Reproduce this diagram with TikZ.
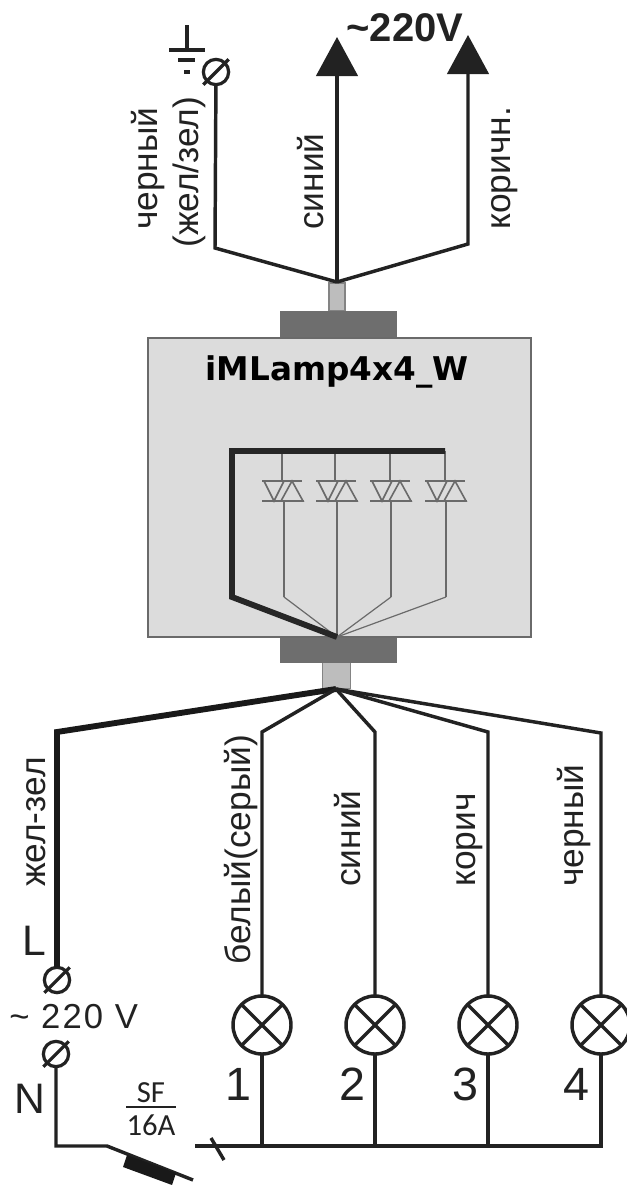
\documentclass[tikz,border=0pt]{standalone}
\usepackage{fontspec}
\setmainfont{Liberation Sans}
\newfontfamily\ratingfont{Carlito}
\newfontfamily\modelfont{DejaVu Sans}
\usetikzlibrary{arrows.meta}
\definecolor{inkblack}{HTML}{222222}
\definecolor{boxgray}{HTML}{DCDCDC}
\definecolor{capgray}{HTML}{6E6E6E}
\definecolor{stubgray}{HTML}{BDBDBD}
\definecolor{pathgray}{HTML}{6A6A6A}
\tikzset{
  wire/.style={draw=inkblack,line width=2.6pt,line join=miter},
  earthwire/.style={draw=black!90,line width=4.4pt,line join=miter},
  busline/.style={draw=black!85,line width=4.4pt,line join=miter},
  leg/.style={draw=pathgray,line width=1.4pt},
  fanleg/.style={draw=pathgray,line width=0.9pt},
  triacpart/.style={draw=pathgray,line width=1.2pt},
  feed/.style={wire,-{Triangle[length=29.25pt,width=31pt]}},
  lamp/.style={circle,draw=inkblack,line width=2.6pt,fill=white,minimum size=43.5pt,inner sep=0pt,outer sep=0pt,
    path picture={\draw[inkblack,line width=2.6pt] (path picture bounding box.south west) -- (path picture bounding box.north east)
      (path picture bounding box.north west) -- (path picture bounding box.south east);}},
  clamp/.style={circle,draw=inkblack,line width=2.4pt,fill=white,minimum size=19pt,inner sep=0pt,outer sep=0pt},
  clampslash/.style={draw=inkblack,line width=2.4pt,shorten <=-4pt,shorten >=-4pt},
  wirelabel/.style={font=\fontsize{26.5}{27}\selectfont,text=inkblack,rotate=90,anchor=base west,inner sep=0pt},
  lamplabel/.style={font=\fontsize{35}{35}\selectfont,text=inkblack,anchor=base,inner sep=0pt},
  ratinglabel/.style={font=\ratingfont\fontsize{23}{23}\selectfont,text=inkblack,anchor=base,inner sep=0pt},
}
\begin{document}
\begin{tikzpicture}[x=0.75pt,y=0.75pt,yscale=-1,xscale=1]
\useasboundingbox (0,0) rectangle (627,1185);

% Module body and connectors
\node (stubtop) [draw=stubgray!70!black,fill=stubgray,line width=0.8pt,minimum width=12pt,minimum height=21pt,inner sep=0pt,outer sep=0pt] at (337,297) {};
\node (captop) [fill=capgray,minimum width=87.75pt,minimum height=20.25pt,inner sep=0pt,outer sep=0pt] at (338.5,324.5) {};
\node (stubbot) [draw=stubgray!70!black,fill=stubgray,line width=0.8pt,minimum width=21pt,minimum height=19pt,inner sep=0pt,outer sep=0pt] at (336.5,675.5) {};
\node (capbot) [fill=capgray,minimum width=87.75pt,minimum height=19pt,inner sep=0pt,outer sep=0pt] at (338.5,650) {};
\node (module) [draw=pathgray,fill=boxgray,line width=0.8pt,minimum width=287.25pt,minimum height=224.25pt,inner sep=0pt,outer sep=0pt] at (339.5,487.5) {};

% Text Node
\node (modeltitle) [font=\modelfont\bfseries\fontsize{24.5}{25}\selectfont,text=black,anchor=base,inner sep=0pt] at (337,380) {iMLamp4x4\_W};

% Inner junctions
\coordinate (fan) at (337,637);
\coordinate (busleft) at (232,451);
\coordinate (busright) at (445,451);
\coordinate (buselbow) at (232,597);
\coordinate (tap1) at (282,451);
\coordinate (tap2) at (335,451);
\coordinate (tap3) at (390,451);
\coordinate (tap4) at (445,451);
\coordinate (triac1) at (282,491);
\coordinate (triac2) at (336,491);
\coordinate (triac3) at (390,491);
\coordinate (triac4) at (445,491);
\coordinate (out1) at (284,501);
\coordinate (out2) at (337,501);
\coordinate (out3) at (391,501);
\coordinate (out4) at (446,501);
\coordinate (bend1) at (284,597);
\coordinate (bend3) at (391,597);
\coordinate (bend4) at (446,597);

% Triac legs
\draw [leg] (tap1) -- (tap1 |- 0,481) ;
\draw [leg] (tap2) -- (tap2 |- 0,481) ;
\draw [leg] (tap3) -- (tap3 |- 0,481) ;
\draw [leg] (tap4) -- (tap4 |- 0,481) ;
\draw [leg] (out1) -- (bend1) ;
\draw [leg] (out2) -- (fan) ;
\draw [leg] (out3) -- (bend3) ;
\draw [leg] (out4) -- (bend4) ;
\draw [fanleg] (bend1) -- (fan) ;
\draw [fanleg] (bend3) -- (fan) ;
\draw [fanleg] (bend4) -- (fan) ;

% Triacs
\draw [triacpart] (triac1) ++(-20,-10) -- ++(40,0) (triac1) ++(-20,10) -- ++(42,0) ;
\draw [triacpart] (triac1) ++(-18,-10) -- ++(20,0) -- ++(-10,20) -- cycle (triac1) ++(-1,10) -- ++(22,0) -- ++(-11,-20) -- cycle ;
\draw [triacpart] (triac2) ++(-20,-10) -- ++(40,0) (triac2) ++(-20,10) -- ++(42,0) ;
\draw [triacpart] (triac2) ++(-18,-10) -- ++(20,0) -- ++(-10,20) -- cycle (triac2) ++(-1,10) -- ++(22,0) -- ++(-11,-20) -- cycle ;
\draw [triacpart] (triac3) ++(-20,-10) -- ++(40,0) (triac3) ++(-20,10) -- ++(42,0) ;
\draw [triacpart] (triac3) ++(-18,-10) -- ++(20,0) -- ++(-10,20) -- cycle (triac3) ++(-1,10) -- ++(22,0) -- ++(-11,-20) -- cycle ;
\draw [triacpart] (triac4) ++(-20,-10) -- ++(40,0) (triac4) ++(-20,10) -- ++(42,0) ;
\draw [triacpart] (triac4) ++(-18,-10) -- ++(20,0) -- ++(-10,20) -- cycle (triac4) ++(-1,10) -- ++(22,0) -- ++(-11,-20) -- cycle ;

% Thick bus
\draw [busline] (busright) -- (busleft) -- (buselbow) -- (fan) ;

% Top wiring
\coordinate (hubtop) at (337,282);
\coordinate (earthknee) at (215,248);
\coordinate (brownknee) at (468,244);
\coordinate (bluetip) at (337,37);
\coordinate (browntip) at (468,35);
\node (earthclamp) [clamp] at (216,72) {};
\draw [clampslash] (earthclamp.south west) -- (earthclamp.north east) ;
\draw [wire] (hubtop) -- (earthknee) -- (earthclamp) ;
\draw [feed] (hubtop) -- (bluetip) ;
\draw [feed] (hubtop) -- (brownknee) -- (browntip) ;
% Earth sign
\coordinate (earthsign) at (187,50);
\draw [wire] (earthsign) ++(0,-25) -- (earthsign) ;
\draw [wire] (earthsign) ++(-18,0) -- ++(36,0) ;
\draw [wire] (earthsign) ++(-9,10) -- ++(17,0) ;
\draw [wire,line width=3.5pt] (earthsign) ++(-3,22) -- ++(6,0) ;

% Text Node
\node (volttop) [font=\bfseries\fontsize{30}{30}\selectfont,text=inkblack,anchor=base,inner sep=0pt] at (405,41) {\textasciitilde 220V};
\node (lblblack) [wirelabel] at (157,230) {черный};
\node (lblearth) [wirelabel] at (198,248) {(жел/зел)};
\node (lblblue) [wirelabel] at (323,230) {синий};
\node (lblbrown) [wirelabel] at (510,230) {коричн.};

% Bottom wiring
\coordinate (hubbot) at (336,689);
\coordinate (lineknee) at (57,732);
\coordinate (knee1) at (262,732);
\coordinate (knee2) at (375,732);
\coordinate (knee3) at (488,732);
\coordinate (knee4) at (601,733);
\node (lampa) [lamp] at (262,1025) {};
\node (lampb) [lamp] at (375,1025) {};
\node (lampc) [lamp] at (488,1025) {};
\node (lampd) [lamp] at (601,1025) {};
\node (lineclamp) [clamp] at (57,980) {};
\node (zeroclamp) [clamp] at (56,1054) {};
\draw [clampslash] (lineclamp.south west) -- (lineclamp.north east) ;
\draw [clampslash] (zeroclamp.south west) -- (zeroclamp.north east) ;
\draw [earthwire] (hubbot) -- (lineknee) -- (lineclamp) ;
\draw [wire] (hubbot) -- (knee1) -- (lampa) ;
\draw [wire] (hubbot) -- (knee2) -- (lampb) ;
\draw [wire] (hubbot) -- (knee3) -- (lampc) ;
\draw [wire] (hubbot) -- (knee4) -- (lampd) ;

% Neutral rail and breaker
\coordinate (railknee) at (56,1146);
\coordinate (breakerin) at (107,1146);
\coordinate (breakerout) at (193,1180);
\coordinate (railstart) at (195,1146);
\coordinate (railend) at (601,1146);
\coordinate (tick) at (217.5,1149);
\draw [wire] (zeroclamp) -- (railknee) -- (breakerin) -- (breakerout) ;
\fill [black!90] (127,1155) -- (123,1167) -- (172,1185) -- (176,1173) -- cycle ;
\draw [wire] (railstart) -- (railend) -- (lampd) ;
\draw [wire] (lampa) -- (lampa |- railend) ;
\draw [wire] (lampb) -- (lampb |- railend) ;
\draw [wire] (lampc) -- (lampc |- railend) ;
\draw [wire] (tick) ++(-6.5,-11) -- ++(13,22) ;

% Text Node
\node (lblline) [wirelabel] at (45,887) {жел-зел};
\node (lblwhite) [wirelabel] at (250,965) {белый(серый)};
\node (lblblue2) [wirelabel] at (360,887) {синий};
\node (lblbrown2) [wirelabel] at (475,887) {корич};
\node (lblblack2) [wirelabel] at (583,887) {черный};
\node (lblL) [lamplabel,font=\fontsize{32}{32}\selectfont] at (34,955) {L};
\node (lblN) [lamplabel,font=\fontsize{32}{32}\selectfont] at (30,1113) {N};
\node (lblvolt) [font=\addfontfeature{LetterSpace=6}\fontsize{26}{26}\selectfont,text=inkblack,anchor=base west,inner sep=0pt] at (9,1028) {\textasciitilde\ 220 V};
\node (lbl1) [lamplabel] at (238,1100) {1};
\node (lbl2) [lamplabel] at (352,1100) {2};
\node (lbl3) [lamplabel] at (465,1100) {3};
\node (lbl4) [lamplabel] at (576,1100) {4};
\node (lblsf) [ratinglabel] at (151,1102) {SF};
\node (lblamp) [ratinglabel] at (151,1135) {16A};
\coordinate (barleft) at (126,1107);
\coordinate (barright) at (176,1107);
\draw [draw=inkblack,line width=1pt] (barleft) -- (barright) ;

\end{tikzpicture}
\end{document}
